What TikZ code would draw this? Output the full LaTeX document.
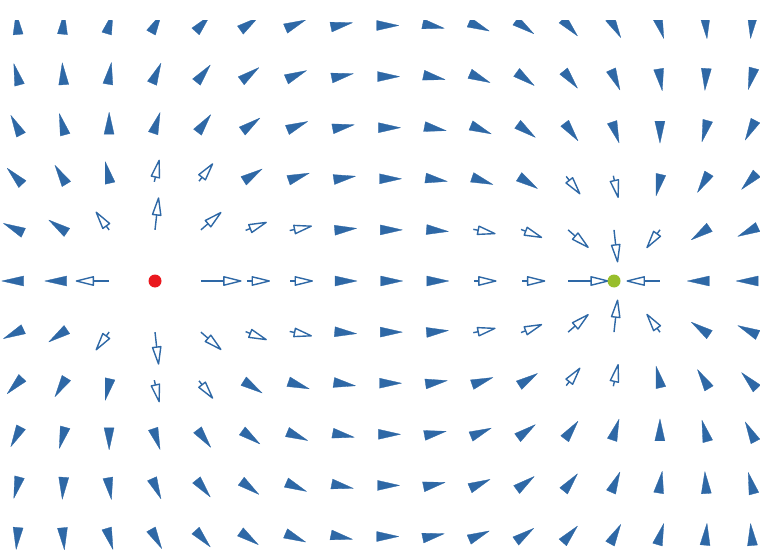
\documentclass[tikz,border=0pt]{standalone}
\usepackage{tikz}
\definecolor{fieldblue}{RGB}{46,104,166}
\definecolor{posred}{RGB}{234,24,30}
\definecolor{neggreen}{RGB}{152,190,44}
\tikzstyle{glyph} = [fill=fieldblue, draw=fieldblue, line width=0.3pt, line join=round]
\tikzstyle{openglyph} = [fill=white, draw=fieldblue, line width=1.4pt, line join=round]
\tikzstyle{shaft} = [draw=fieldblue, line width=1.4pt]
\tikzstyle{charge} = [circle, inner sep=0pt, minimum size=13pt]

\begin{document}
\begin{tikzpicture}[x=1pt, y=-1pt]
    \useasboundingbox (0,0) rectangle (760,556);

    % Charges
    \coordinate (Q1) at (155,281);
    \coordinate (Q2) at (614,281);

    % Field arrows (1/r field, tail on grid point, short ones centred)
    \begin{scope}
    \clip (0,21) rectangle (760,556);
    \foreach \i in {0,...,16} {
      \foreach \j in {0,...,10} {
        \pgfmathtruncatemacro{\oncharge}{and(\j==5, or(\i==3, \i==13))}
        \ifnum\oncharge=0
          \pgfmathsetmacro{\gx}{17.3+45.9*\i}
          \pgfmathsetmacro{\gy}{25.5+51.1*\j}
          \pgfmathsetmacro{\dax}{(\gx-155)/100}
          \pgfmathsetmacro{\day}{(\gy-281)/100}
          \pgfmathsetmacro{\dbx}{(\gx-614)/100}
          \pgfmathsetmacro{\dby}{(\gy-281)/100}
          \pgfmathsetmacro{\rsa}{\dax*\dax+\day*\day}
          \pgfmathsetmacro{\rsb}{\dbx*\dbx+\dby*\dby}
          \pgfmathsetmacro{\fx}{\dax/\rsa-\dbx/\rsb}
          \pgfmathsetmacro{\fy}{\day/\rsa-\dby/\rsb}
          \pgfmathsetmacro{\fn}{sqrt(\fx*\fx+\fy*\fy)}
          \pgfmathsetmacro{\ux}{\fx/\fn}
          \pgfmathsetmacro{\uy}{\fy/\fn}
          \pgfmathsetmacro{\flen}{16.5*\fn}
          \pgfmathsetmacro{\fback}{max(0,22-\flen)/2}
          \pgfmathsetmacro{\tailx}{\gx-\fback*\ux}
          \pgfmathsetmacro{\taily}{\gy-\fback*\uy}
          \pgfmathsetmacro{\tipx}{\tailx+max(\flen,22)*\ux}
          \pgfmathsetmacro{\tipy}{\taily+max(\flen,22)*\uy}
          \ifdim\flen pt>15.3pt
            % long arrows: shaft and open head
            \pgfmathsetmacro{\basex}{\tipx-17*\ux}
            \pgfmathsetmacro{\basey}{\tipy-17*\uy}
            \pgfmathsetmacro{\lx}{\basex-4.2*\uy}
            \pgfmathsetmacro{\ly}{\basey+4.2*\ux}
            \pgfmathsetmacro{\rx}{\basex+4.2*\uy}
            \pgfmathsetmacro{\ry}{\basey-4.2*\ux}
            \draw[shaft] (\tailx,\taily) -- (\basex,\basey);
            \draw[openglyph] (\tipx,\tipy) -- (\lx,\ly) -- (\rx,\ry) -- cycle;
          \else
            % short arrows: filled head only
            \pgfmathsetmacro{\basex}{\tipx-22*\ux}
            \pgfmathsetmacro{\basey}{\tipy-22*\uy}
            \pgfmathsetmacro{\lx}{\basex-5*\uy}
            \pgfmathsetmacro{\ly}{\basey+5*\ux}
            \pgfmathsetmacro{\rx}{\basex+5*\uy}
            \pgfmathsetmacro{\ry}{\basey-5*\ux}
            \draw[glyph] (\tipx,\tipy) -- (\lx,\ly) -- (\rx,\ry) -- cycle;
          \fi
        \fi
      }
    }
    \end{scope}

    \node (plus) [charge, fill=posred] at (Q1) {};
    \node (minus) [charge, fill=neggreen] at (Q2) {};
\end{tikzpicture}
\end{document}
